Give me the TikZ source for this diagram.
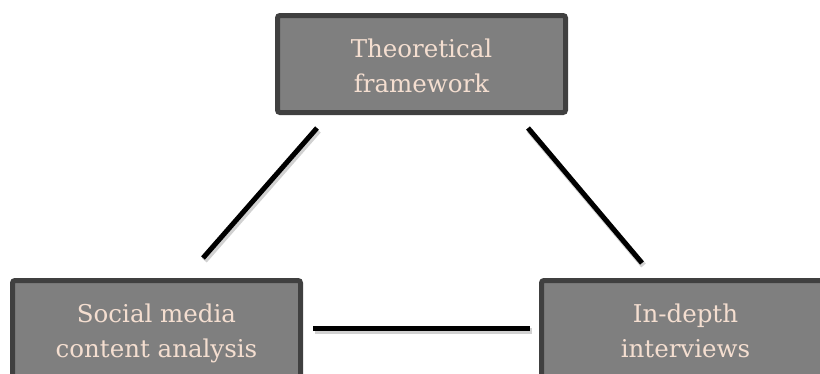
\documentclass[tikz,border=0pt]{standalone}
\usepackage{fontspec}
\setmainfont{DejaVu Serif}
\usetikzlibrary{calc}
\definecolor{boxfill}{HTML}{7F7F7F}
\definecolor{boxborder}{HTML}{404040}
\definecolor{boxtext}{HTML}{F4DED0}
\tikzset{
  box/.style={draw=boxborder, fill=boxfill, line width=5pt, rounded corners=2.5pt,
    minimum width=288pt, minimum height=97pt, inner sep=0pt, outer sep=0pt},
  lbl/.style={text=boxtext, align=center, inner sep=0pt, outer sep=0pt,
    font=\fontsize{24.5}{35}\selectfont},
  link/.style={line width=5pt, black},
  linkshadow/.style={line width=6pt, black, opacity=0.18},
}
\begin{document}
\begin{tikzpicture}[x=1pt,y=-1pt]
\useasboundingbox (0,0) rectangle (820,373);
\clip (0,0) rectangle (820,373);
% boxes
\node[box] (top) at (421.5,64) {};
\node[box] (left) at (156.5,329) {};
\node[box] (right) at (685.5,329) {};
% labels
\node[lbl, anchor=north] (toptext) at ($(top.north)+(0,23)$) {Theoretical\\framework};
\node[lbl, anchor=north] (lefttext) at ($(left.north)+(0,23.5)$) {Social media\\content analysis};
\node[lbl, anchor=north] (righttext) at ($(right.north)+(0,23.5)$) {In-depth\\interviews};
% connector coordinates
\coordinate (tl) at ($(top.south west)+(39.5,15.5)$);
\coordinate (lt) at ($(left.north)+(46.5,-22.5)$);
\coordinate (tr) at ($(top.south east)+(-37.5,15.5)$);
\coordinate (rt) at ($(right.north)+(-43.5,-17.5)$);
\coordinate (lr) at ($(left.east)+(12.5,-1)$);
\coordinate (rl) at ($(right.west)+(-11.5,-1)$);
% shadows
\draw[linkshadow] ($(tl)+(1.5,2.5)$) -- ($(lt)+(1.5,2.5)$);
\draw[linkshadow] ($(tr)+(1.5,2.5)$) -- ($(rt)+(1.5,2.5)$);
\draw[linkshadow] ($(lr)+(1.5,2.5)$) -- ($(rl)+(1.5,2.5)$);
% connectors
\draw[link] (tl) -- (lt);
\draw[link] (tr) -- (rt);
\draw[link] (lr) -- (rl);
\end{tikzpicture}
\end{document}
